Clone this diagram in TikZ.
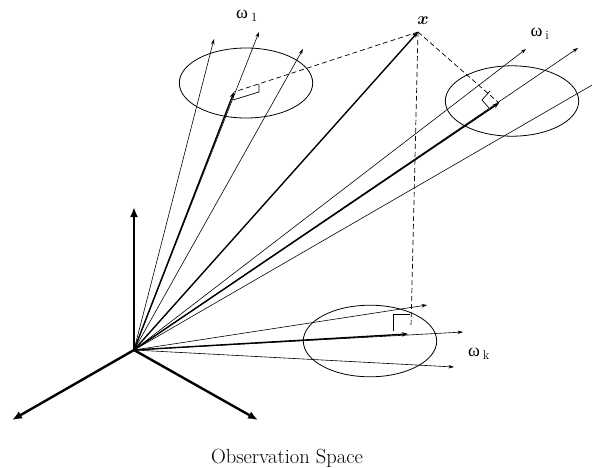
\documentclass[tikz,border=0pt]{standalone}
\usepackage{amsmath}
\usepackage{fontspec}
\usetikzlibrary{arrows.meta}
\newfontfamily\grfont{Liberation Serif}
\newcommand{\omlab}[1]{{\grfont ω}\,$_{\mathrm{#1}}$}

\begin{document}
\begin{tikzpicture}[x=1pt, y=-1pt]
    % --- 样式设置 ---
    \tikzstyle{axis}=[-{Latex[length=10pt, width=8pt]}, line width=2.4pt, black]
    \tikzstyle{vec}=[-{Stealth[length=6pt, width=4.5pt]}, line width=1.4pt, black]
    \tikzstyle{ray}=[-{Stealth[length=5.5pt, width=3.5pt]}, line width=0.6pt, black]
    \tikzstyle{proj}=[dash pattern=on 5pt off 3pt, line width=0.7pt, black]
    \tikzstyle{cluster}=[line width=0.8pt, black]
    \tikzstyle{rightangle}=[line width=0.7pt, black]
    \tikzstyle{wlabel}=[font=\fontsize{18}{20}\selectfont, inner sep=0pt]

    \useasboundingbox (0,0) rectangle (592,467);

    % 1. 坐标点
    \coordinate (O) at (134,350);
    \coordinate (X) at (418,32);
    \coordinate (az) at (134,207);
    \coordinate (al) at (12,420);
    \coordinate (ar) at (258,420);
    % 类 1
    \coordinate (c1) at (246,83);
    \coordinate (r1a) at (214,39);
    \coordinate (r1b) at (259,32);
    \coordinate (r1c) at (303,49);
    \coordinate (t1) at (234,92);
    % 类 i
    \coordinate (ci) at (512,101);
    \coordinate (ria) at (526,49);
    \coordinate (rib) at (578,48);
    \coordinate (ric) at (600,80.5);
    \coordinate (ti) at (499,103);
    % 类 k
    \coordinate (ck) at (370,341);
    \coordinate (rka) at (427,305);
    \coordinate (rkb) at (463,332);
    \coordinate (rkc) at (454,367);
    \coordinate (tk) at (408,334);
    \coordinate (fk) at (411,327);

    % 2. 三个坐标轴
    \draw[axis] (O) -- (az);
    \draw[axis] (O) -- (al);
    \draw[axis] (O) -- (ar);

    % 3. 各类的椭圆
    \draw[cluster] (c1) ellipse [x radius=66.7, y radius=35];
    \draw[cluster] (ci) ellipse [x radius=66.7, y radius=35.2];
    \draw[cluster] (ck) ellipse [x radius=66.7, y radius=35.8];

    % 4. 细射线
    \draw[ray] (O) -- (r1a);
    \draw[ray] (O) -- (r1b);
    \draw[ray] (O) -- (r1c);
    \draw[ray] (O) -- (ria);
    \draw[ray] (O) -- (rib);
    \draw[line width=0.6pt] (O) -- (ric);
    \draw[ray] (O) -- (rka);
    \draw[ray] (O) -- (rkb);
    \draw[ray] (O) -- (rkc);

    % 5. 粗向量 (投影)
    \draw[vec] (O) -- (X);
    \draw[vec] (O) -- (t1);
    \draw[vec] (O) -- (ti);
    \draw[vec] (O) -- (tk);

    % 6. 虚线与直角记号
    \draw[proj] (X) -- (t1);
    \draw[proj] (X) -- (ti);
    \draw[proj] (X) -- (fk);
    \draw[rightangle] (233,100) -- (259,92) -- (259,84);
    \draw[rightangle] (490,91) -- (482,100) -- (489,108);
    \draw[rightangle] (393,331) -- (393,314) -- (410,314);

    % 7. 文字标注
    \node[wlabel] (xlab) at (423,21) {$\boldsymbol{x}$};
    \node[wlabel] (w1) at (247,16) {\omlab{1}};
    \node[wlabel] (wi) at (540,34) {\omlab{i}};
    \node[wlabel] (wk) at (479,354) {\omlab{k}};
    \node[font=\fontsize{20.5}{24}\selectfont, anchor=base] (title) at (287,463) {Observation Space};

\end{tikzpicture}
\end{document}
